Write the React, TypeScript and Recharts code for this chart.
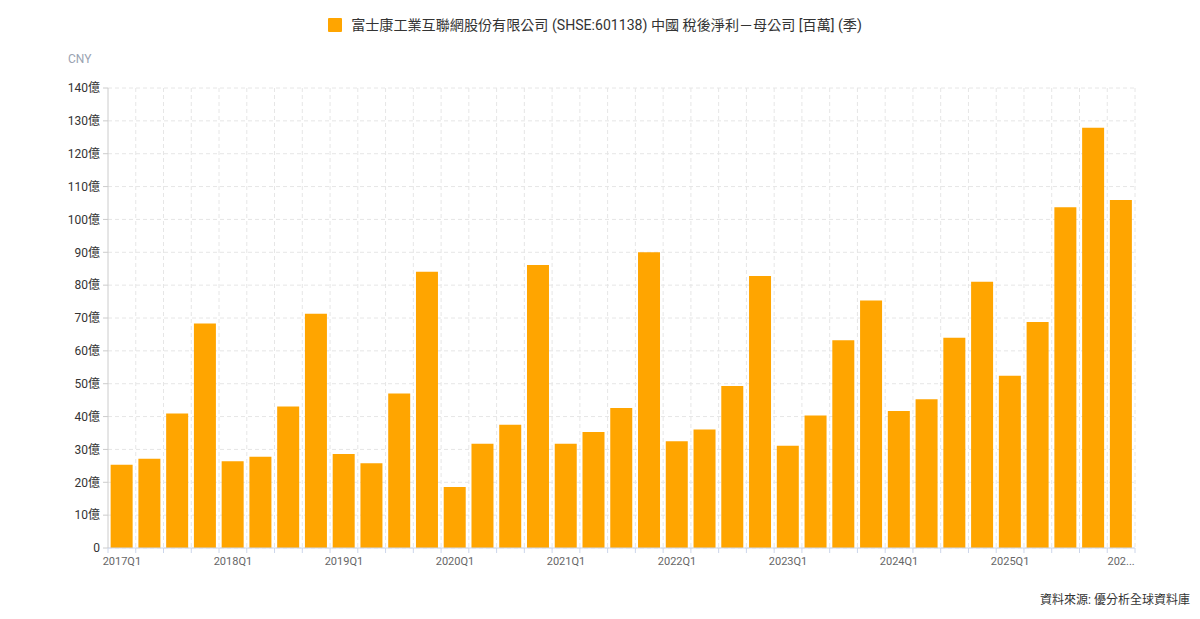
import React from 'react';
import { BarChart, Bar, XAxis, YAxis, CartesianGrid } from 'recharts';

const quarters = [
  '2017Q1', '2017Q2', '2017Q3', '2017Q4',
  '2018Q1', '2018Q2', '2018Q3', '2018Q4',
  '2019Q1', '2019Q2', '2019Q3', '2019Q4',
  '2020Q1', '2020Q2', '2020Q3', '2020Q4',
  '2021Q1', '2021Q2', '2021Q3', '2021Q4',
  '2022Q1', '2022Q2', '2022Q3', '2022Q4',
  '2023Q1', '2023Q2', '2023Q3', '2023Q4',
  '2024Q1', '2024Q2', '2024Q3', '2024Q4',
  '2025Q1', '2025Q2', '2025Q3', '2025Q4',
  '2026Q1',
];

// net income attributable to parent, in 億 CNY
const netIncome = [
  25.3, 27.2, 40.9, 68.3,
  26.4, 27.8, 43.1, 71.3,
  28.6, 25.8, 47.0, 84.1,
  18.6, 31.7, 37.5, 86.1,
  31.7, 35.3, 42.6, 90.0,
  32.5, 36.1, 49.3, 82.8,
  31.1, 40.3, 63.2, 75.3,
  41.7, 45.3, 64.0, 81.0,
  52.4, 68.8, 103.7, 127.9,
  105.9,
];

const yTicks = [0, 10, 20, 30, 40, 50, 60, 70, 80, 90, 100, 110, 120, 130, 140];

const data = quarters.map((q, i) => ({ quarter: q, value: netIncome[i] }));

const W = 1200;
const H = 619;
const margin = { top: 88, right: 65, bottom: 41, left: 0 };
const Y_AXIS_W = 108;
const plotW = W - margin.left - margin.right - Y_AXIS_W;
const band = plotW / quarters.length;

const FONT = "Roboto, 'Noto Sans CJK TC', sans-serif";
const BAR_COLOR = '#FFA500';

const QuarterTick = (props: any) => {
  const { x, y, index, payload } = props;
  const isLast = index === quarters.length - 1;
  let label: string | null = null;
  if (index % 4 === 0) label = isLast ? payload.value.slice(0, 3) + '...' : payload.value;
  return (
    <g>
      <line x1={x - band / 2} x2={x - band / 2} y1={y} y2={y + 5} stroke="#ccd6eb" />
      {isLast && <line x1={x + band / 2} x2={x + band / 2} y1={y} y2={y + 5} stroke="#ccd6eb" />}
      {label && (
        <text x={x} y={y + 17} textAnchor="middle" fontSize={11} fill="#666" fontFamily={FONT}>
          {label}
        </text>
      )}
    </g>
  );
};

const App: React.FC = () => {
  return (
    <div style={{ position: 'absolute', left: 0, top: 0, width: W, height: H, background: '#fff', fontFamily: FONT }}>
      <div
        style={{
          position: 'absolute', top: 16, left: 0, width: W - 10, textAlign: 'center',
          fontSize: 14.1, color: '#333', lineHeight: '18px',
        }}
      >
        <span style={{ display: 'inline-block', width: 14, height: 14, background: BAR_COLOR, verticalAlign: -2, marginRight: 9, borderRadius: 1 }} />
        富士康工業互聯網股份有限公司 (SHSE:601138) 中國 稅後淨利－母公司 [百萬] (季)
      </div>
      <div style={{ position: 'absolute', top: 52, left: 68, fontSize: 12, color: '#9aa3b2' }}>CNY</div>

      <BarChart width={W} height={H} data={data} margin={margin} barCategoryGap="9.5%">
        <CartesianGrid
          stroke="#e6e6e6"
          strokeDasharray="4 3"
          verticalCoordinatesGenerator={({ offset }: any) =>
            quarters.map((_, i) => offset.left + ((i + 1) * offset.width) / quarters.length)
          }
        />
        <XAxis
          dataKey="quarter"
          interval={0}
          height={30}
          tickSize={0}
          tickMargin={0}
          tickLine={false}
          axisLine={{ stroke: '#ccd6eb' }}
          tick={<QuarterTick />}
        />
        <YAxis
          width={Y_AXIS_W}
          domain={[0, 140]}
          ticks={yTicks}
          interval={0}
          tickSize={5}
          tickMargin={3}
          tickLine={{ stroke: '#ccc' }}
          axisLine={{ stroke: '#ccc' }}
          tick={{ fontSize: 12, fill: '#333', fontFamily: FONT }}
          tickFormatter={(v: number) => (v === 0 ? '0' : `${v}億`)}
        />
        <Bar dataKey="value" fill={BAR_COLOR} isAnimationActive={false} />
      </BarChart>

      <div style={{ position: 'absolute', top: 590, right: 10, fontSize: 12, color: '#333' }}>
        資料來源: 優分析全球資料庫
      </div>
    </div>
  );
};

export default App;
